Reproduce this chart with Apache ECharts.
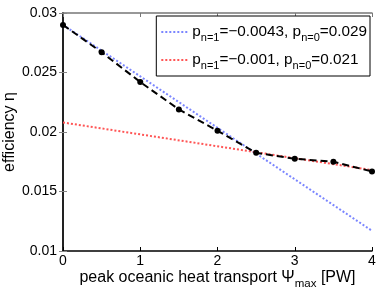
<!DOCTYPE html>
<html><head><meta charset="utf-8">
<script src="https://cdn.jsdelivr.net/npm/echarts@6/dist/echarts.min.js"></script>
<style>html,body{margin:0;padding:0;background:#fff}#c{width:382px;height:289px}</style>
</head><body><div id="c"></div>
<script>
const xData = [0, 0.5, 1, 1.5, 2, 2.5, 3, 3.5, 4];
const effData = [0.0290, 0.0267, 0.0242, 0.0219, 0.0201, 0.01825, 0.01775, 0.0175, 0.01668];
const fit1X = [0, 4];
const fit1Y = [0.0290, 0.0117];
const fit2X = [0, 4];
const fit2Y = [0.0208, 0.0168];
const fit1Name = 'fit1';
const fit2Name = 'fit2';
const legendTexts = {
  fit1: ['p', 'n=1', '=−0.0043, ', 'p', 'n=0', '=0.029'],
  fit2: ['p', 'n=1', '=−0.001, ', 'p', 'n=0', '=0.021']
};
const F = 'Liberation Sans, Arial, sans-serif';
const chart = echarts.init(document.getElementById('c'));
function pair(xs, ys){ return xs.map((x,i)=>[x, ys[i]]); }
chart.setOption({
  animation: false,
  grid: {left: 63, right: 10, top: 13, bottom: 38, show: false, outerBoundsMode: 'none', containLabel: false},
  legend: {
    right: 12, top: 16,
    orient: 'vertical',
    backgroundColor: '#fff',
    borderColor: '#000', borderWidth: 1,
    padding: [5, 3, 5, 4],
    itemGap: 6,
    itemWidth: 26, itemHeight: 14,
    itemStyle: {color: 'rgba(0,0,0,0)', borderWidth: 0, opacity: 0},
    data: [fit1Name, fit2Name],
    formatter: function(name){
      const t = legendTexts[name];
      return '{m|' + t[0] + '}{s|' + t[1] + '}{m|' + t[2] + '}{m|' + t[3] + '}{s|' + t[4] + '}{m|' + t[5] + '}';
    },
    textStyle: {
      fontFamily: F, color: '#000',
      rich: {
        m: {fontSize: 15.3, fontFamily: F, color: '#000', lineHeight: 20, verticalAlign: 'middle'},
        s: {fontSize: 11, fontFamily: F, color: '#000', lineHeight: 20, padding: [11, 0, 0, 0], verticalAlign: 'middle'}
      }
    }
  },
  xAxis: [{
    type: 'value', min: 0, max: 4, interval: 1,
    name: 'peak oceanic heat transport {g|Ψ}{s|max} [PW]',
    nameLocation: 'middle', nameGap: 14, nameMoveOverlap: false,
    nameTextStyle: {fontFamily: F, fontSize: 16, color: '#000',
      rich: {g: {fontFamily: F, fontSize: 16, color: '#000'}, s: {fontFamily: F, fontSize: 11.5, color: '#000', padding: [13, 0, 0, 0]}}},
    axisLine: {lineStyle: {color: '#000', width: 1.5}},
    axisTick: {inside: true, length: 4, lineStyle: {color: '#000'}},
    axisLabel: {fontFamily: F, fontSize: 14, color: '#000', margin: 3},
    splitLine: {show: false}
  }, {
    type: 'value', min: 0, max: 4, interval: 1, position: 'top',
    axisLine: {show: true, lineStyle: {color: '#777', width: 1.5}},
    axisTick: {inside: true, length: 4, lineStyle: {color: '#777'}},
    axisLabel: {show: false}, splitLine: {show: false}
  }],
  yAxis: [{
    type: 'value', min: 0.01, max: 0.03, interval: 0.005,
    name: 'efficiency η', nameLocation: 'middle', nameGap: 45, nameMoveOverlap: false,
    nameTextStyle: {fontFamily: F, fontSize: 16, color: '#000'},
    axisLine: {show: true, lineStyle: {color: '#888', width: 2}},
    axisTick: {show: true, inside: true, length: 4, lineStyle: {color: '#888'}},
    axisLabel: {fontFamily: F, fontSize: 14, color: '#000', margin: 6,
      formatter: v => String(Math.round(v*1000)/1000)},
    splitLine: {show: false}
  }, {
    type: 'value', min: 0.01, max: 0.03, interval: 0.005, position: 'right',
    axisLine: {show: true, lineStyle: {color: '#000', width: 1.5}},
    axisTick: {show: true, inside: true, length: 4, lineStyle: {color: '#888'}},
    axisLabel: {show: false}, splitLine: {show: false}
  }],
  series: [
    {name: fit1Name, type: 'line', data: pair(fit1X, fit1Y), symbol: 'none',
     lineStyle: {color: '#7b86ff', width: 2, type: [2, 2]}, itemStyle: {color: '#7b86ff'}, z: 2},
    {name: fit2Name, type: 'line', data: pair(fit2X, fit2Y), symbol: 'none',
     lineStyle: {color: '#ff5555', width: 2, type: [2, 2]}, itemStyle: {color: '#ff5555'}, z: 2},
    {name: 'data', type: 'line', data: pair(xData, effData), symbol: 'circle', symbolSize: 6,
     lineStyle: {color: '#000', width: 2, type: [7, 4]}, itemStyle: {color: '#000'}, z: 3}
  ]
});
</script></body></html>
